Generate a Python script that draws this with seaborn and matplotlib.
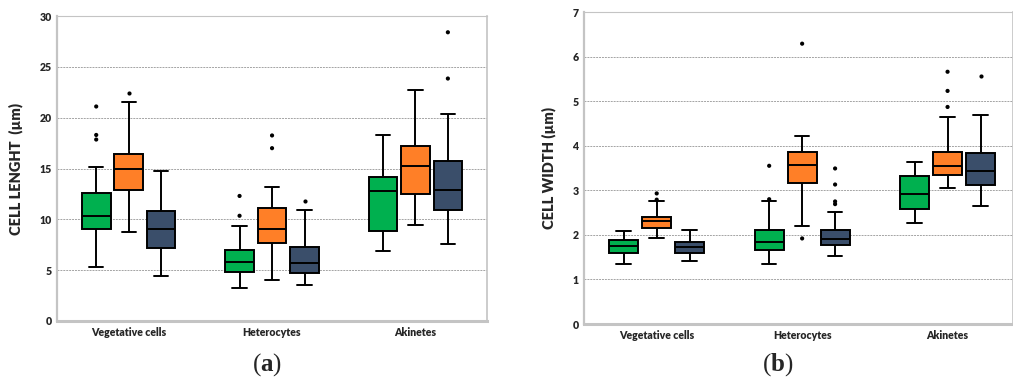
import numpy as np
import pandas as pd
import seaborn as sns
import matplotlib
matplotlib.use('Agg')
import matplotlib.pyplot as plt
from matplotlib.collections import PathCollection

# categories and series (no legend in the figure)
cell_types = ['Vegetative cells', 'Heterocytes', 'Akinetes']
series_names = ['Series 1', 'Series 2', 'Series 3']
series_colors = ['#00B04F', '#FF7F27', '#3A4E6A']

# box statistics, rows = series, columns = cell types
length_whislo = [[5.3, 3.2, 6.9], [8.8, 4.0, 9.4], [4.4, 3.5, 7.6]]
length_q1 = [[9.0, 4.8, 8.9], [12.9, 7.7, 12.5], [7.2, 4.7, 10.9]]
length_med = [[10.3, 5.8, 12.8], [15.0, 9.0, 15.2], [9.0, 5.7, 12.9]]
length_q3 = [[12.6, 7.0, 14.2], [16.4, 11.1, 17.2], [10.8, 7.3, 15.7]]
length_whishi = [[15.1, 9.3, 18.3], [21.5, 13.2, 22.7], [14.8, 10.9, 20.4]]
length_fliers = [
    ('Series 1', 'Vegetative cells', 21.1), ('Series 1', 'Vegetative cells', 18.3),
    ('Series 1', 'Vegetative cells', 17.85), ('Series 2', 'Vegetative cells', 22.4),
    ('Series 1', 'Heterocytes', 12.3), ('Series 1', 'Heterocytes', 10.35),
    ('Series 2', 'Heterocytes', 18.25), ('Series 2', 'Heterocytes', 17.0),
    ('Series 3', 'Heterocytes', 11.85),
    ('Series 3', 'Akinetes', 28.4), ('Series 3', 'Akinetes', 23.85),
]

width_whislo = [[1.34, 1.34, 2.27], [1.94, 2.20, 3.05], [1.42, 1.52, 2.64]]
width_q1 = [[1.60, 1.65, 2.59], [2.15, 3.16, 3.34], [1.60, 1.78, 3.13]]
width_med = [[1.75, 1.83, 2.91], [2.32, 3.56, 3.54], [1.72, 1.90, 3.44]]
width_q3 = [[1.89, 2.10, 3.31], [2.40, 3.87, 3.86], [1.83, 2.10, 3.83]]
width_whishi = [[2.09, 2.76, 3.64], [2.75, 4.22, 4.64], [2.11, 2.51, 4.69]]
width_fliers = [
    ('Series 2', 'Vegetative cells', 2.93), ('Series 2', 'Vegetative cells', 2.79),
    ('Series 1', 'Heterocytes', 3.55), ('Series 1', 'Heterocytes', 2.80),
    ('Series 2', 'Heterocytes', 6.29), ('Series 2', 'Heterocytes', 1.92),
    ('Series 3', 'Heterocytes', 3.49), ('Series 3', 'Heterocytes', 3.13),
    ('Series 3', 'Heterocytes', 2.75), ('Series 3', 'Heterocytes', 2.69),
    ('Series 2', 'Akinetes', 5.66), ('Series 2', 'Akinetes', 5.23),
    ('Series 2', 'Akinetes', 4.87), ('Series 3', 'Akinetes', 5.56),
]

box_width = 0.68
label_font = 'Lato'

sns.set_theme(style='white')
plt.rcParams['font.family'] = [label_font, 'DejaVu Sans']
plt.rcParams['mathtext.fontset'] = 'custom'
plt.rcParams['mathtext.rm'] = 'Liberation Serif'
plt.rcParams['mathtext.bf'] = 'Liberation Serif:bold'


def box_frame(lo, q1, med, q3, hi):
    # five points per box -> exact quartiles with linear percentiles, whiskers at min/max
    rows = []
    for s, name in enumerate(series_names):
        for c, cell in enumerate(cell_types):
            for v in (lo[s][c], q1[s][c], med[s][c], q3[s][c], hi[s][c]):
                rows.append({'cell': cell, 'series': name, 'value': v})
    return pd.DataFrame(rows)


def draw_panel(ax, boxes, fliers, ylabel, ymax, xmax, labelpad):
    sns.boxplot(data=boxes, x='cell', y='value', hue='series', order=cell_types,
                hue_order=series_names, palette=series_colors, saturation=1,
                whis=(0, 100), width=box_width, gap=0.12, linecolor='black',
                linewidth=1.4, fliersize=0, legend=False, ax=ax)
    n_before = len(ax.collections)
    sns.stripplot(data=fliers, x='cell', y='value', hue='series', order=cell_types,
                  hue_order=series_names, palette=['black'] * 3, dodge=True,
                  jitter=False, size=3, linewidth=0, legend=False, ax=ax)
    # stripplot always dodges over a 0.8 width; squeeze to the box width
    for coll in ax.collections[n_before:]:
        if isinstance(coll, PathCollection):
            xy = np.array(coll.get_offsets())
            if len(xy) == 0:
                continue
            centre = np.round(xy[:, 0])
            xy[:, 0] = centre + (xy[:, 0] - centre) * box_width / 0.8
            coll.set_offsets(xy)

    ax.set_ylim(0, ymax)
    ax.set_xlim(-0.5, xmax)
    ax.set_yticks(range(0, ymax + 1, 5 if ymax > 10 else 1))
    ax.yaxis.grid(True, color='#a4a4a4', linestyle=(0, (2, 1)), linewidth=0.7)
    ax.set_axisbelow(True)
    for side in ['left', 'bottom', 'right', 'top']:
        ax.spines[side].set_color('#c4c4c4')
    ax.spines['left'].set_linewidth(1.6)
    ax.spines['bottom'].set_linewidth(2.2)
    ax.spines['right'].set_linewidth(1.2)
    ax.spines['top'].set_linewidth(0.8)
    ax.tick_params(length=0, labelsize=7.6, pad=4)
    for lab in ax.get_xticklabels() + ax.get_yticklabels():
        lab.set_fontweight('heavy')
    ax.set_xlabel('')
    ax.set_ylabel(ylabel, fontsize=10.5, fontweight='heavy', labelpad=labelpad)


fig = plt.figure(figsize=(10.13, 3.83), dpi=100)
ax1 = fig.add_axes([0.0563, 0.1619, 0.4245, 0.7963])
ax2 = fig.add_axes([0.5765, 0.154, 0.4235, 0.8146])

draw_panel(ax1,
           box_frame(length_whislo, length_q1, length_med, length_q3, length_whishi),
           pd.DataFrame(length_fliers, columns=['series', 'cell', 'value']),
           'CELL LENGHT  (µm)', 30, 2.5, 12)
draw_panel(ax2,
           box_frame(width_whislo, width_q1, width_med, width_q3, width_whishi),
           pd.DataFrame(width_fliers, columns=['series', 'cell', 'value']),
           'CELL WIDTH (µm)', 7, 2.45, 12)

fig.text(0.264, 0.047, r'($\mathbf{a}$)', fontsize=18, ha='center', va='center',
         family='Liberation Serif')
fig.text(0.768, 0.047, r'($\mathbf{b}$)', fontsize=18, ha='center', va='center',
         family='Liberation Serif')

fig.savefig('out.png', dpi=100)
